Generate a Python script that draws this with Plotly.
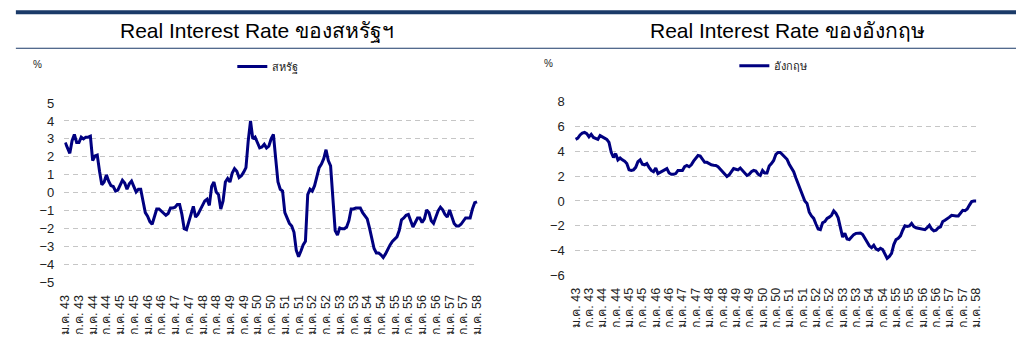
import plotly.graph_objects as go

# Month index 0 = ม.ค. 43 (Jan 2000) ... 180 = ม.ค. 58 (Jan 2015)
tick_labels = []
for yy in range(43, 58):
    tick_labels += [f"ม.ค. {yy}", f"ก.ค. {yy}"]
tick_labels.append("ม.ค. 58")

us_rate = [
    2.8, 2.5, 2.2, 2.9, 3.25, 2.8, 2.8, 3.1, 3.0, 3.1,
    3.1, 3.15, 1.8, 2.05, 2.1, 1.2, 0.45, 0.6, 1.0, 0.65,
    0.4, 0.35, 0.1, 0.15, 0.45, 0.7, 0.55, 0.2, 0.5, 0.65,
    0.35, 0.05, 0.2, 0.2, -0.45, -1.1, -1.3, -1.6, -1.75, -1.3,
    -0.9, -0.9, -1.0, -1.1, -1.25, -1.15, -0.85, -0.85, -0.8, -0.65,
    -0.65, -1.2, -2.0, -2.05, -1.6, -1.1, -0.75, -1.35, -1.2, -0.95,
    -0.7, -0.45, -0.35, -0.7, 0.35, 0.6, 0.05, -0.1, -0.9, -0.45,
    0.6, 0.8, 0.6, 1.1, 1.35, 1.2, 0.85, 0.95, 1.15, 1.4,
    2.9, 4.0, 3.0, 3.1, 2.8, 2.5, 2.55, 2.7, 2.5, 2.6,
    3.0, 3.25, 1.9, 0.6, 0.2, 0.1, -1.1, -1.4, -1.7, -1.85,
    -2.2, -3.2, -3.55, -3.25, -2.9, -2.7, -0.1, 0.2, 0.1, 0.4,
    0.85, 1.4, 1.6, 1.9, 2.4, 1.8, 1.5, -0.5, -2.1, -2.35,
    -1.95, -2.0, -2.0, -1.9, -1.55, -0.9, -0.9, -0.85, -0.85, -0.85,
    -1.1, -1.3, -1.45, -1.95, -2.55, -3.1, -3.35, -3.35, -3.45, -3.6,
    -3.4, -3.1, -2.9, -2.7, -2.6, -2.45, -2.1, -1.5, -1.4, -1.25,
    -1.2, -1.6, -1.9, -1.65, -1.4, -1.4, -1.65, -1.45, -0.95, -1.1,
    -1.55, -1.7, -1.35, -1.0, -0.8, -0.95, -1.2, -1.35, -0.95, -1.3,
    -1.7, -1.85, -1.85, -1.75, -1.6, -1.4, -1.4, -1.4, -0.9, -0.55,
    -0.5,
]

uk_rate = [
    4.95, 5.05, 5.3, 5.45, 5.5, 5.4, 5.15, 5.35, 5.1, 5.0,
    4.95, 5.25, 5.15, 5.05, 4.95, 4.7, 3.9, 3.5, 3.8, 3.3,
    3.45, 3.3, 3.2, 3.0, 2.5, 2.45, 2.5, 2.7, 3.15, 3.3,
    2.95, 2.9, 3.0, 2.7, 2.45, 2.35, 2.65, 2.2, 2.3, 2.4,
    2.5, 2.6, 2.25, 2.15, 2.15, 2.2, 2.45, 2.45, 2.45, 2.75,
    2.85, 2.75, 2.9, 3.2, 3.45, 3.65, 3.6, 3.3, 3.1, 3.1,
    3.0, 2.9, 2.87, 2.85, 2.75, 2.55, 2.3, 2.1, 1.97, 2.1,
    2.35, 2.6, 2.55, 2.5, 2.65, 2.45, 2.25, 2.05, 2.15, 2.35,
    2.45, 2.4, 2.15, 2.05, 2.45, 2.25, 2.25, 2.8, 3.0, 3.25,
    3.75, 3.9, 3.9, 3.7, 3.55, 3.35, 2.95, 2.7, 2.35, 1.85,
    1.35, 0.85, 0.35, 0.0, -0.2, -0.9, -1.2, -1.4, -1.85, -2.25,
    -2.3, -1.75, -1.65, -1.4, -1.3, -1.15, -0.8, -1.0, -1.35, -2.1,
    -2.9, -2.6, -3.05, -3.1, -2.85, -2.7, -2.6, -2.56, -2.58, -2.7,
    -2.95, -3.3, -3.6, -3.75, -3.55, -3.85, -3.95, -3.8, -3.9, -4.3,
    -4.6, -4.45, -4.2, -3.5, -3.1, -3.0, -2.8, -2.35, -2.0, -2.05,
    -2.0, -1.8, -2.05, -2.15, -2.18, -2.2, -2.28, -2.3, -2.15, -1.95,
    -2.25, -2.4, -2.35, -2.15, -2.08, -1.65, -1.55, -1.45, -1.3, -1.15,
    -1.2, -1.2, -1.2, -1.0, -0.75, -0.78, -0.65, -0.33, -0.05, 0.0,
    0.0,
]

months = list(range(len(us_rate)))
tick_vals = list(range(0, 181, 6))

us_ticks = [5, 4, 3, 2, 1, 0, -1, -2, -3, -4, -5]
uk_ticks = [8, 6, 4, 2, 0, -2, -4, -6]

W, H = 1022, 347
LINE = "#000080"
GRID = "#c6c6c6"
NAVY = "#1b3a68"
FONT = "Liberation Sans, Arial, sans-serif"

fig = go.Figure()
fig.add_trace(go.Scatter(x=months, y=us_rate, mode="lines", name="สหรัฐ",
                         line=dict(color=LINE, width=3), xaxis="x", yaxis="y",
                         legend="legend"))
fig.add_trace(go.Scatter(x=months, y=uk_rate, mode="lines", name="อังกฤษ",
                         line=dict(color=LINE, width=3), xaxis="x2", yaxis="y2",
                         legend="legend2"))

def px_x(p):
    return p / W

def px_y(p):
    return 1 - p / H

xcommon = dict(tickmode="array", tickvals=tick_vals, ticktext=tick_labels,
               tickangle=-90, showgrid=False, zeroline=False, showline=False,
               ticks="", ticklabelstandoff=8,
               tickfont=dict(family=FONT, size=12.5, color="#222"),
               range=[-0.4, 180.6], fixedrange=True)
ycommon = dict(showgrid=True, gridcolor=GRID, gridwidth=1, griddash="5px,4px",
               zeroline=False, showline=False, ticks="", ticklabelstandoff=9,
               tickfont=dict(family=FONT, size=13, color="#222"), fixedrange=True)

fig.update_layout(
    width=W, height=H,
    margin=dict(l=0, r=0, t=0, b=0),
    paper_bgcolor="white", plot_bgcolor="white",
    font=dict(family=FONT, color="#222"),
    showlegend=True,
    xaxis=dict(domain=[px_x(59), px_x(478)], anchor="y", **xcommon),
    xaxis2=dict(domain=[px_x(575.5), px_x(983)], anchor="y2", **xcommon),
    yaxis=dict(domain=[px_y(288.2), px_y(99.1)], anchor="x", range=[-5.05, 5.05],
               tickvals=us_ticks, **ycommon),
    yaxis2=dict(domain=[px_y(280.65), px_y(97.65)], anchor="x2", range=[-6.05, 8.05],
                tickvals=uk_ticks, **ycommon),
    legend=dict(x=px_x(229), y=px_y(47), xanchor="left", yanchor="top",
                bgcolor="rgba(0,0,0,0)", font=dict(family=FONT, size=11, color="#222"),
                itemwidth=30, tracegroupgap=0),
    legend2=dict(x=px_x(737), y=px_y(46), xanchor="left", yanchor="top",
                 bgcolor="rgba(0,0,0,0)", font=dict(family=FONT, size=11, color="#222"),
                 itemwidth=30, tracegroupgap=0),
    shapes=[
        dict(type="rect", xref="paper", yref="paper", x0=px_x(10), x1=1,
             y0=px_y(7.5), y1=px_y(3.5), fillcolor=NAVY, line=dict(width=0)),
        dict(type="line", xref="paper", yref="paper", x0=px_x(10), x1=1,
             y0=px_y(43), y1=px_y(43), line=dict(color=NAVY, width=1)),
    ],
    annotations=[
        dict(text="Real Interest Rate ของสหรัฐฯ", x=px_x(254), y=px_y(25), xref="paper",
             yref="paper", showarrow=False, xanchor="center", yanchor="middle",
             font=dict(family=FONT, size=21, color="#000")),
        dict(text="Real Interest Rate ของอังกฤษ", x=px_x(791), y=px_y(25), xref="paper",
             yref="paper", showarrow=False, xanchor="center", yanchor="middle",
             font=dict(family=FONT, size=21, color="#000")),
        dict(text="%", x=px_x(32), y=px_y(60), xref="paper", yref="paper",
             showarrow=False, xanchor="center", yanchor="middle",
             font=dict(family=FONT, size=10, color="#222")),
        dict(text="%", x=px_x(549), y=px_y(59), xref="paper", yref="paper",
             showarrow=False, xanchor="center", yanchor="middle",
             font=dict(family=FONT, size=10, color="#222")),
    ],
)

fig.write_html("out.html")
